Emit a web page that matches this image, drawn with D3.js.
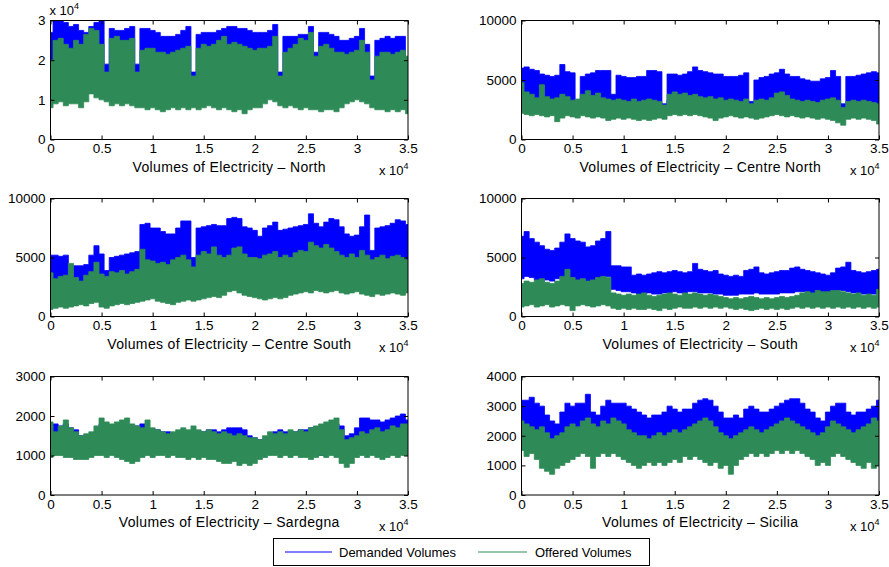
<!DOCTYPE html>
<html>
<head>
<meta charset="utf-8">
<script src="https://cdn.jsdelivr.net/npm/d3@7"></script>
<style>
body { margin: 0; background: #fff; }
svg { display: block; font-family: "Liberation Sans", Arial, Helvetica, sans-serif; }
</style>
</head>
<body>
<svg id="chart" width="889" height="567"></svg>
<script>
// sample index (hours), one envelope reading every 500 samples
const sampleX = d3.range(0, 35001, 500);
const xTicks = [0, 5000, 10000, 15000, 20000, 25000, 30000, 35000];

// North
const northDemHi = [27000,30000,30000,29500,28500,29000,27500,27000,28500,29500,
  30000,19000,28000,27500,27500,28000,28500,19000,28000,28000,
  27500,27000,26000,26000,26000,26500,27500,28500,17000,26500,
  27000,27000,27000,27500,28000,28500,28500,28000,28000,27500,
  27000,27000,27000,27500,29000,17000,26000,26000,26000,26500,
  26500,28500,22000,27000,27000,26500,26000,25000,25000,25500,
  26000,28000,24000,16000,25000,25500,26000,25500,26000,26000,16000];
const northDemLo = [12000,13000,13500,13000,13000,14000,13500,13000,14000,14500,
  14000,12000,13500,14000,13500,13500,14000,12000,12500,13000,
  12500,12000,12000,12500,12500,13000,13000,13500,11000,12500,
  13000,13000,13500,13500,14000,13500,13500,13000,13000,12500,
  12500,12500,13000,13500,14000,11000,12000,12500,13000,13500,
  13000,14000,12000,12500,12500,12500,12000,12000,12500,13000,
  13500,14000,12500,11000,12000,12000,12500,12000,12000,12500,11000];
const northOffHi = [20000,25000,25500,24000,23000,25000,24000,26500,28000,27500,
  24000,17000,25500,26000,25000,25000,25500,17000,22500,23000,
  23000,22000,22000,21500,22000,22500,23000,23500,16000,23000,
  24000,23500,24000,25000,26000,24000,24500,24000,23500,23000,
  22500,23000,23000,23500,26000,16000,22000,23000,24000,25500,
  25000,27000,21000,23500,24000,23000,22000,22000,21500,22000,
  22500,25000,22000,15000,21000,22000,22000,21500,22000,22500,21000];
const northOffLo = [8000,9000,9500,8500,9000,9000,8000,9500,11500,10500,
  10000,9500,8500,9000,8500,9000,8500,8000,8000,7500,
  8000,7500,7000,7500,8000,7500,8000,7500,8000,7500,
  8000,8500,8000,7500,8000,7500,7000,7500,6500,7500,
  8000,8000,9000,10000,9500,8500,8000,8500,8000,7500,
  8000,7500,7500,7000,7500,7500,7000,8000,9000,9500,
  10000,9500,9000,8000,7500,7500,7000,7500,7000,7500,6500];

// Centre North
const cNorthDemHi = [6000,6100,5900,5800,5500,5400,5300,5400,6300,5700,
  5600,3200,5300,5500,5600,5800,5800,5800,3800,5400,
  5300,5200,5200,5300,5300,5800,5800,5700,3000,5500,
  5500,5400,5500,5700,6100,5800,5700,5600,5500,5500,
  5300,5300,5300,5400,5600,3200,5000,5200,5300,5500,
  5600,5900,5500,5300,5300,5100,5000,4900,4900,5100,
  5200,5800,5300,3000,5300,5300,5400,5500,5600,5700,5600];
const cNorthDemLo = [3000,3200,3100,3000,3100,2900,3000,2800,3100,3200,
  3000,2800,3100,3300,3100,3200,3000,2900,2800,3000,
  2900,3000,2900,2800,2900,2800,2900,3000,2700,3300,
  3400,3300,3400,3300,3300,3200,3100,3000,2900,3000,
  3100,3200,3100,3000,3100,2800,2900,3000,3100,3200,
  3300,3200,3100,3200,3100,3000,3100,3000,2900,3000,
  2900,2800,2700,2500,2900,3000,2900,3000,2900,2800,2600];
const cNorthOffHi = [4800,4000,3800,3500,4600,3600,3400,3500,3800,3600,
  3300,3400,3800,4100,3700,3900,3500,3400,3300,3400,
  3300,3200,3400,3200,3300,3400,3300,3200,2900,3800,
  4000,3800,3900,3700,3800,3600,3500,3600,3400,3500,
  3300,3400,3300,3200,3400,3000,3300,3400,3300,3500,
  3900,4000,3700,3400,3300,3200,3300,3200,3100,3300,
  3400,3500,3300,2700,3200,3300,3200,3300,3200,3100,3000];
const cNorthOffLo = [2200,2100,2000,2100,2000,1900,2000,1500,1800,2000,
  1900,1800,2000,1900,1800,1900,1800,1600,1700,1800,
  1700,1800,1700,1600,1700,1600,1700,1800,1700,2000,
  2100,2000,2100,2000,2100,2000,1900,1800,1600,1800,
  1900,2000,1900,1800,1900,1800,1700,1800,1900,2000,
  2100,2000,1900,2000,1900,1800,1900,1800,1700,1800,
  1700,1600,1400,1200,1700,1800,1700,1800,1700,1600,1300];

// Centre South
const cSouthDemHi = [5200,5200,5100,5200,3500,4300,4300,4400,5200,6000,
  5300,3900,5000,5100,5200,5300,5400,5500,7800,7900,
  7500,7500,7200,7000,7000,7500,8100,8100,5000,7500,
  7600,7700,7800,7700,7700,8300,8400,8300,7600,7500,
  7300,6800,7500,7700,8000,7300,7400,7500,7600,7700,
  7800,8700,7900,7600,8000,8300,8200,7600,7000,6800,
  6900,7600,8600,5600,7500,7600,7700,7900,8200,8100,7800];
const cSouthDemLo = [2500,2700,2800,2600,2500,2700,2800,2700,2900,3000,
  2800,2600,2800,2900,3000,2900,3000,3100,4200,4300,
  4200,4000,3900,3800,3900,4100,4300,4200,3800,4300,
  4400,4500,4600,4500,4600,4800,4900,4700,4500,4400,
  4300,4200,4300,4400,4500,4300,4400,4400,4600,4700,
  4700,4900,4800,4700,4800,4900,4800,4600,4400,4300,
  4400,4500,4600,4000,4400,4500,4500,4600,4700,4600,4500];
const cSouthOffHi = [3700,3200,3400,3500,4500,3300,3000,3500,3800,4600,
  3600,3400,3800,3700,3900,3600,3800,4000,5700,4800,
  4700,4500,4600,4400,4800,5000,5200,4800,4200,5200,
  5500,5300,5900,5200,5000,5200,5800,5900,5300,5000,
  5000,4900,5200,5300,5500,5000,5200,5000,5400,5600,
  5500,6300,6000,5800,6100,5800,5500,5200,5000,5300,
  5000,5600,5200,4800,5000,5200,4900,5100,5200,5000,4800];
const cSouthOffLo = [600,700,800,700,800,900,1000,900,1100,1200,
  800,700,900,1000,1100,1000,1100,1200,1300,1400,
  1500,1300,1200,1100,1000,1200,1300,1400,1300,1400,
  1500,1600,1700,1600,1800,2100,2200,2000,1800,1700,
  1600,1500,1400,1500,1600,1500,1600,1800,1900,2000,
  2100,2000,2200,2100,2000,2100,2200,2000,1900,2000,
  2100,1900,1800,1700,1900,1800,1900,2000,1900,1800,2000];

// South
const southDemHi = [6800,7200,6600,6300,6000,5700,5600,5800,6300,7000,
  6600,6400,6300,5900,6000,6400,6600,7200,4300,4300,
  4200,4200,3500,3600,3500,3600,3700,3800,3700,3800,
  3900,3800,3700,3800,4500,4000,3900,3800,3900,3600,
  3500,3400,3500,3400,3900,4000,4200,3700,3600,3700,
  3800,3900,3900,4100,4200,4000,3900,3800,3700,3600,
  3500,3700,4100,4200,4600,3900,3800,3700,3800,3900,4000];
const southDemLo = [3200,3400,3300,3100,3000,3100,3000,3200,3300,3500,
  3300,3100,3200,3000,3100,3200,3300,3400,2300,2200,
  2100,2100,2000,1900,1900,2000,1900,1900,2000,2000,
  2100,2000,2000,2100,2100,2000,2000,2000,1900,1900,
  1800,1800,1800,1900,1900,1900,2000,1900,1900,1900,
  1900,2000,2000,2000,2100,2100,2100,2000,2000,2000,
  2000,2100,2200,2200,2100,2000,2000,1900,1900,1900,1900];
const southOffHi = [2800,3000,2900,3100,3200,2900,2800,3000,3400,4000,
  3300,3100,3200,3000,3100,3300,3400,3300,2000,1900,
  1800,1900,1800,1900,2000,1800,1700,1800,1900,2000,
  1900,1800,2000,1900,2000,1900,1800,1900,1800,1700,
  1600,1500,1600,1500,1600,1700,1600,1500,1600,1500,
  1600,1700,1600,1700,1800,2000,2100,2000,2200,2100,
  2100,2200,2200,2100,2000,1900,2000,1800,1900,1800,2300];
const southOffLo = [800,900,1000,800,900,1000,800,900,1000,900,
  500,900,1000,900,800,900,1000,900,700,600,
  700,600,700,600,600,700,600,500,700,600,
  700,800,700,700,800,700,800,700,800,700,
  800,700,600,700,600,500,600,700,600,700,
  600,700,600,700,800,700,800,700,800,700,
  800,700,800,700,800,700,800,700,800,700,800];

// Sardegna
const sardDemHi = [1600,1800,1750,1800,1700,1650,1500,1500,1450,1550,
  1800,1750,1700,1750,1800,1750,1700,1750,1800,1700,
  1650,1650,1600,1600,1500,1500,1550,1600,1650,1600,
  1600,1650,1650,1600,1650,1700,1700,1700,1650,1500,
  1450,1400,1400,1450,1600,1650,1600,1550,1600,1650,
  1650,1700,1650,1700,1750,1750,1800,1750,1500,1550,
  1700,1950,1950,1900,1900,1850,1900,1950,2000,2050,1900];
const sardDemLo = [1200,1150,1150,1200,1150,1100,1150,1100,1150,1150,
  1100,1150,1100,1150,1100,1100,1150,1100,1150,1100,
  1100,1050,1100,1050,1100,1100,1050,1100,1050,1050,
  1100,1050,1050,1050,1100,1050,1050,1050,1100,1100,
  1100,1150,1150,1200,1150,1150,1100,1100,1050,1050,
  1000,1050,1050,1000,1050,1050,1100,1100,1050,1100,
  1150,1200,1250,1200,1250,1250,1200,1250,1300,1250,1250];
const sardOffHi = [1850,1600,1750,1900,1700,1600,1500,1550,1600,1750,
  1950,1850,1800,1850,1900,1950,1800,1750,1700,1900,
  1700,1650,1600,1550,1600,1650,1700,1650,1750,1650,
  1600,1650,1600,1550,1600,1550,1500,1550,1500,1450,
  1450,1400,1500,1600,1550,1600,1550,1650,1600,1650,
  1600,1700,1750,1800,1850,1900,1950,1650,1400,1450,
  1500,1600,1550,1650,1700,1600,1650,1750,1700,1800,1800];
const sardOffLo = [950,1000,1000,950,950,900,900,900,950,1000,
  1000,950,1000,950,900,850,800,850,950,1000,
  950,1000,1000,950,1000,950,950,900,950,900,
  950,900,900,850,800,800,850,750,800,750,
  800,900,950,1000,1000,950,1000,950,1000,950,
  950,900,950,1000,950,1000,950,800,700,800,
  950,1000,950,1000,950,900,950,1000,950,1000,1000];

// Sicilia
const sicDemHi = [3200,3200,3300,3100,3000,2700,2500,2400,2800,3100,
  3000,3100,3100,3400,2800,2700,3000,3200,3100,3100,
  3100,3000,2900,2800,2700,2600,2700,2700,2800,3000,
  2900,2800,2900,2900,3100,3200,3250,3200,3000,2800,
  2600,2600,2700,2600,2900,3000,2900,2800,2800,2900,
  3000,3100,3200,3250,3250,3100,2900,2800,2600,2500,
  2800,3000,3100,3100,2800,2700,2800,2800,2900,3000,3200];
const sicDemLo = [1800,1700,1800,1700,1600,1500,1500,1600,1700,1800,
  1800,1900,1800,1900,1700,1800,1900,1800,1900,1800,
  1700,1700,1600,1600,1600,1600,1700,1700,1600,1700,
  1700,1700,1800,1700,1800,1900,1900,1800,1700,1600,
  1600,1500,1600,1600,1700,1800,1700,1700,1700,1800,
  1800,1900,1900,1800,1800,1700,1700,1600,1600,1500,
  1700,1800,1800,1700,1700,1600,1600,1700,1700,1800,1800];
const sicOffHi = [2500,2400,2300,2200,2300,2100,1900,2000,2100,2300,
  2400,2300,2500,2600,2400,2300,2500,2400,2600,2500,
  2400,2200,2100,2000,2000,1900,2000,2100,2000,2100,
  2200,2100,2200,2300,2400,2500,2600,2500,2300,2100,
  2000,1900,2000,2100,2200,2300,2200,2100,2200,2300,
  2400,2500,2600,2500,2400,2300,2200,2100,2000,2100,
  2300,2500,2400,2300,2200,2100,2200,2300,2400,2600,2500];
const sicOffLo = [1500,1300,1400,1200,900,800,700,900,1000,1100,
  1200,1300,1400,1300,900,1300,1400,1300,1400,1300,
  1200,1100,1000,900,1000,1100,1000,1100,1000,1100,
  1200,1100,1300,1200,1300,1200,1100,1000,1100,900,
  1000,700,1000,1200,1300,1400,1300,1400,1300,1400,
  1500,1400,1500,1400,1500,1400,1300,1200,1000,1100,
  1000,1300,1400,1300,1200,1100,1000,900,1100,900,1000];

const seriesNames = ["Demanded Volumes", "Offered Volumes"];
const seriesColors = ["#0000ff", "#2e8b57"];

const panels = [
  {title: "Volumes of Electricity \u2013 North", col: 0, row: 0, yMax: 30000,
   yTicks: [0, 10000, 20000, 30000], yFmt: d => d / 1e4, sciY: true,
   dem: [northDemLo, northDemHi], off: [northOffLo, northOffHi]},
  {title: "Volumes of Electricity \u2013 Centre North", col: 1, row: 0, yMax: 10000,
   yTicks: [0, 5000, 10000], yFmt: d => d,
   dem: [cNorthDemLo, cNorthDemHi], off: [cNorthOffLo, cNorthOffHi]},
  {title: "Volumes of Electricity \u2013 Centre South", col: 0, row: 1, yMax: 10000,
   yTicks: [0, 5000, 10000], yFmt: d => d,
   dem: [cSouthDemLo, cSouthDemHi], off: [cSouthOffLo, cSouthOffHi]},
  {title: "Volumes of Electricity \u2013 South", col: 1, row: 1, yMax: 10000,
   yTicks: [0, 5000, 10000], yFmt: d => d,
   dem: [southDemLo, southDemHi], off: [southOffLo, southOffHi]},
  {title: "Volumes of Electricity \u2013 Sardegna", col: 0, row: 2, yMax: 3000,
   yTicks: [0, 1000, 2000, 3000], yFmt: d => d,
   dem: [sardDemLo, sardDemHi], off: [sardOffLo, sardOffHi]},
  {title: "Volumes of Electricity \u2013 Sicilia", col: 1, row: 2, yMax: 4000,
   yTicks: [0, 1000, 2000, 3000, 4000], yFmt: d => d,
   dem: [sicDemLo, sicDemHi], off: [sicOffLo, sicOffHi]}
];

const svg = d3.select("#chart");
const cols = [[50.5, 408], [521.5, 879]];
const rows = [[20.5, 139.5], [198.5, 316.5], [376.5, 495]];

// draws "x 10^4" multiplier text
function sciLabel(g, x, y) {
  const t = g.append("text").attr("x", x).attr("y", y)
    .attr("font-size", 13).attr("fill", "#000");
  t.append("tspan").text("x 10");
  t.append("tspan").attr("dy", -6).attr("font-size", 9).text("4");
}

panels.forEach((p, k) => {
  const [x0, x1] = cols[p.col], [y0, y1] = rows[p.row];
  const x = d3.scaleLinear().domain([0, 35000]).range([x0, x1]);
  const y = d3.scaleLinear().domain([0, p.yMax]).range([y1, y0]);
  const g = svg.append("g");

  g.append("clipPath").attr("id", "clip" + k)
    .append("rect").attr("x", x0).attr("y", y0).attr("width", x1 - x0).attr("height", y1 - y0);

  const plot = g.append("g").attr("clip-path", `url(#clip${k})`);
  [p.dem, p.off].forEach((s, j) => {
    const pts = sampleX.map((t, i) => ({t: t, lo: s[0][i], hi: s[1][i]}));
    const area = d3.area()
      .curve(d3.curveStep)
      .x(d => x(d.t))
      .y0(d => y(d.lo))
      .y1(d => y(d.hi));
    plot.append("path")
      .datum(pts)
      .attr("d", area)
      .attr("fill", seriesColors[j])
      .attr("stroke", seriesColors[j])
      .attr("stroke-width", 0.8);
  });

  // axes, ticks pointing inward like matlab
  const bottom = g.append("g").attr("transform", `translate(0,${y1})`)
    .call(d3.axisBottom(x).tickValues(xTicks).tickFormat(d => d / 1e4)
      .tickSize(-4).tickSizeOuter(0).tickPadding(4));
  const left = g.append("g").attr("transform", `translate(${x0},0)`)
    .call(d3.axisLeft(y).tickValues(p.yTicks).tickFormat(p.yFmt)
      .tickSize(-4).tickSizeOuter(0).tickPadding(5));
  g.append("g").attr("transform", `translate(0,${y0})`)
    .call(d3.axisTop(x).tickValues(xTicks).tickFormat("").tickSize(-4).tickSizeOuter(0));
  g.append("g").attr("transform", `translate(${x1},0)`)
    .call(d3.axisRight(y).tickValues(p.yTicks).tickFormat("").tickSize(-4).tickSizeOuter(0));

  g.selectAll(".domain").remove();
  g.selectAll(".tick line").attr("stroke", "#000");
  [bottom, left].forEach(a => a.attr("font-size", 13.5).attr("font-family", null)
    .selectAll("text").attr("fill", "#000"));

  g.append("rect")
    .attr("x", x0).attr("y", y0).attr("width", x1 - x0).attr("height", y1 - y0)
    .attr("fill", "none").attr("stroke", "#000").attr("stroke-width", 1);

  g.append("text")
    .attr("x", (x0 + x1) / 2).attr("y", y1 + 32)
    .attr("text-anchor", "middle").attr("font-size", 14).attr("letter-spacing", 0.35)
    .attr("fill", "#000")
    .text(p.title);

  sciLabel(g, x1 - 29, y1 + 35.5);
  if (p.sciY) sciLabel(g, x0 - 1, y0 - 5.5);
});

// legend
const legend = svg.append("g");
legend.append("rect")
  .attr("x", 273.5).attr("y", 538.5).attr("width", 376).attr("height", 27)
  .attr("fill", "#fff").attr("stroke", "#000").attr("stroke-width", 1);
const legX = [[285, 332, 339], [478, 527, 535]];
seriesNames.forEach((name, j) => {
  legend.append("line")
    .attr("x1", legX[j][0]).attr("x2", legX[j][1]).attr("y1", 552).attr("y2", 552)
    .attr("stroke", seriesColors[j]).attr("stroke-width", 1);
  legend.append("text")
    .attr("x", legX[j][2]).attr("y", 556.5)
    .attr("font-size", 13).attr("fill", "#000")
    .text(name);
});
</script>
</body>
</html>
